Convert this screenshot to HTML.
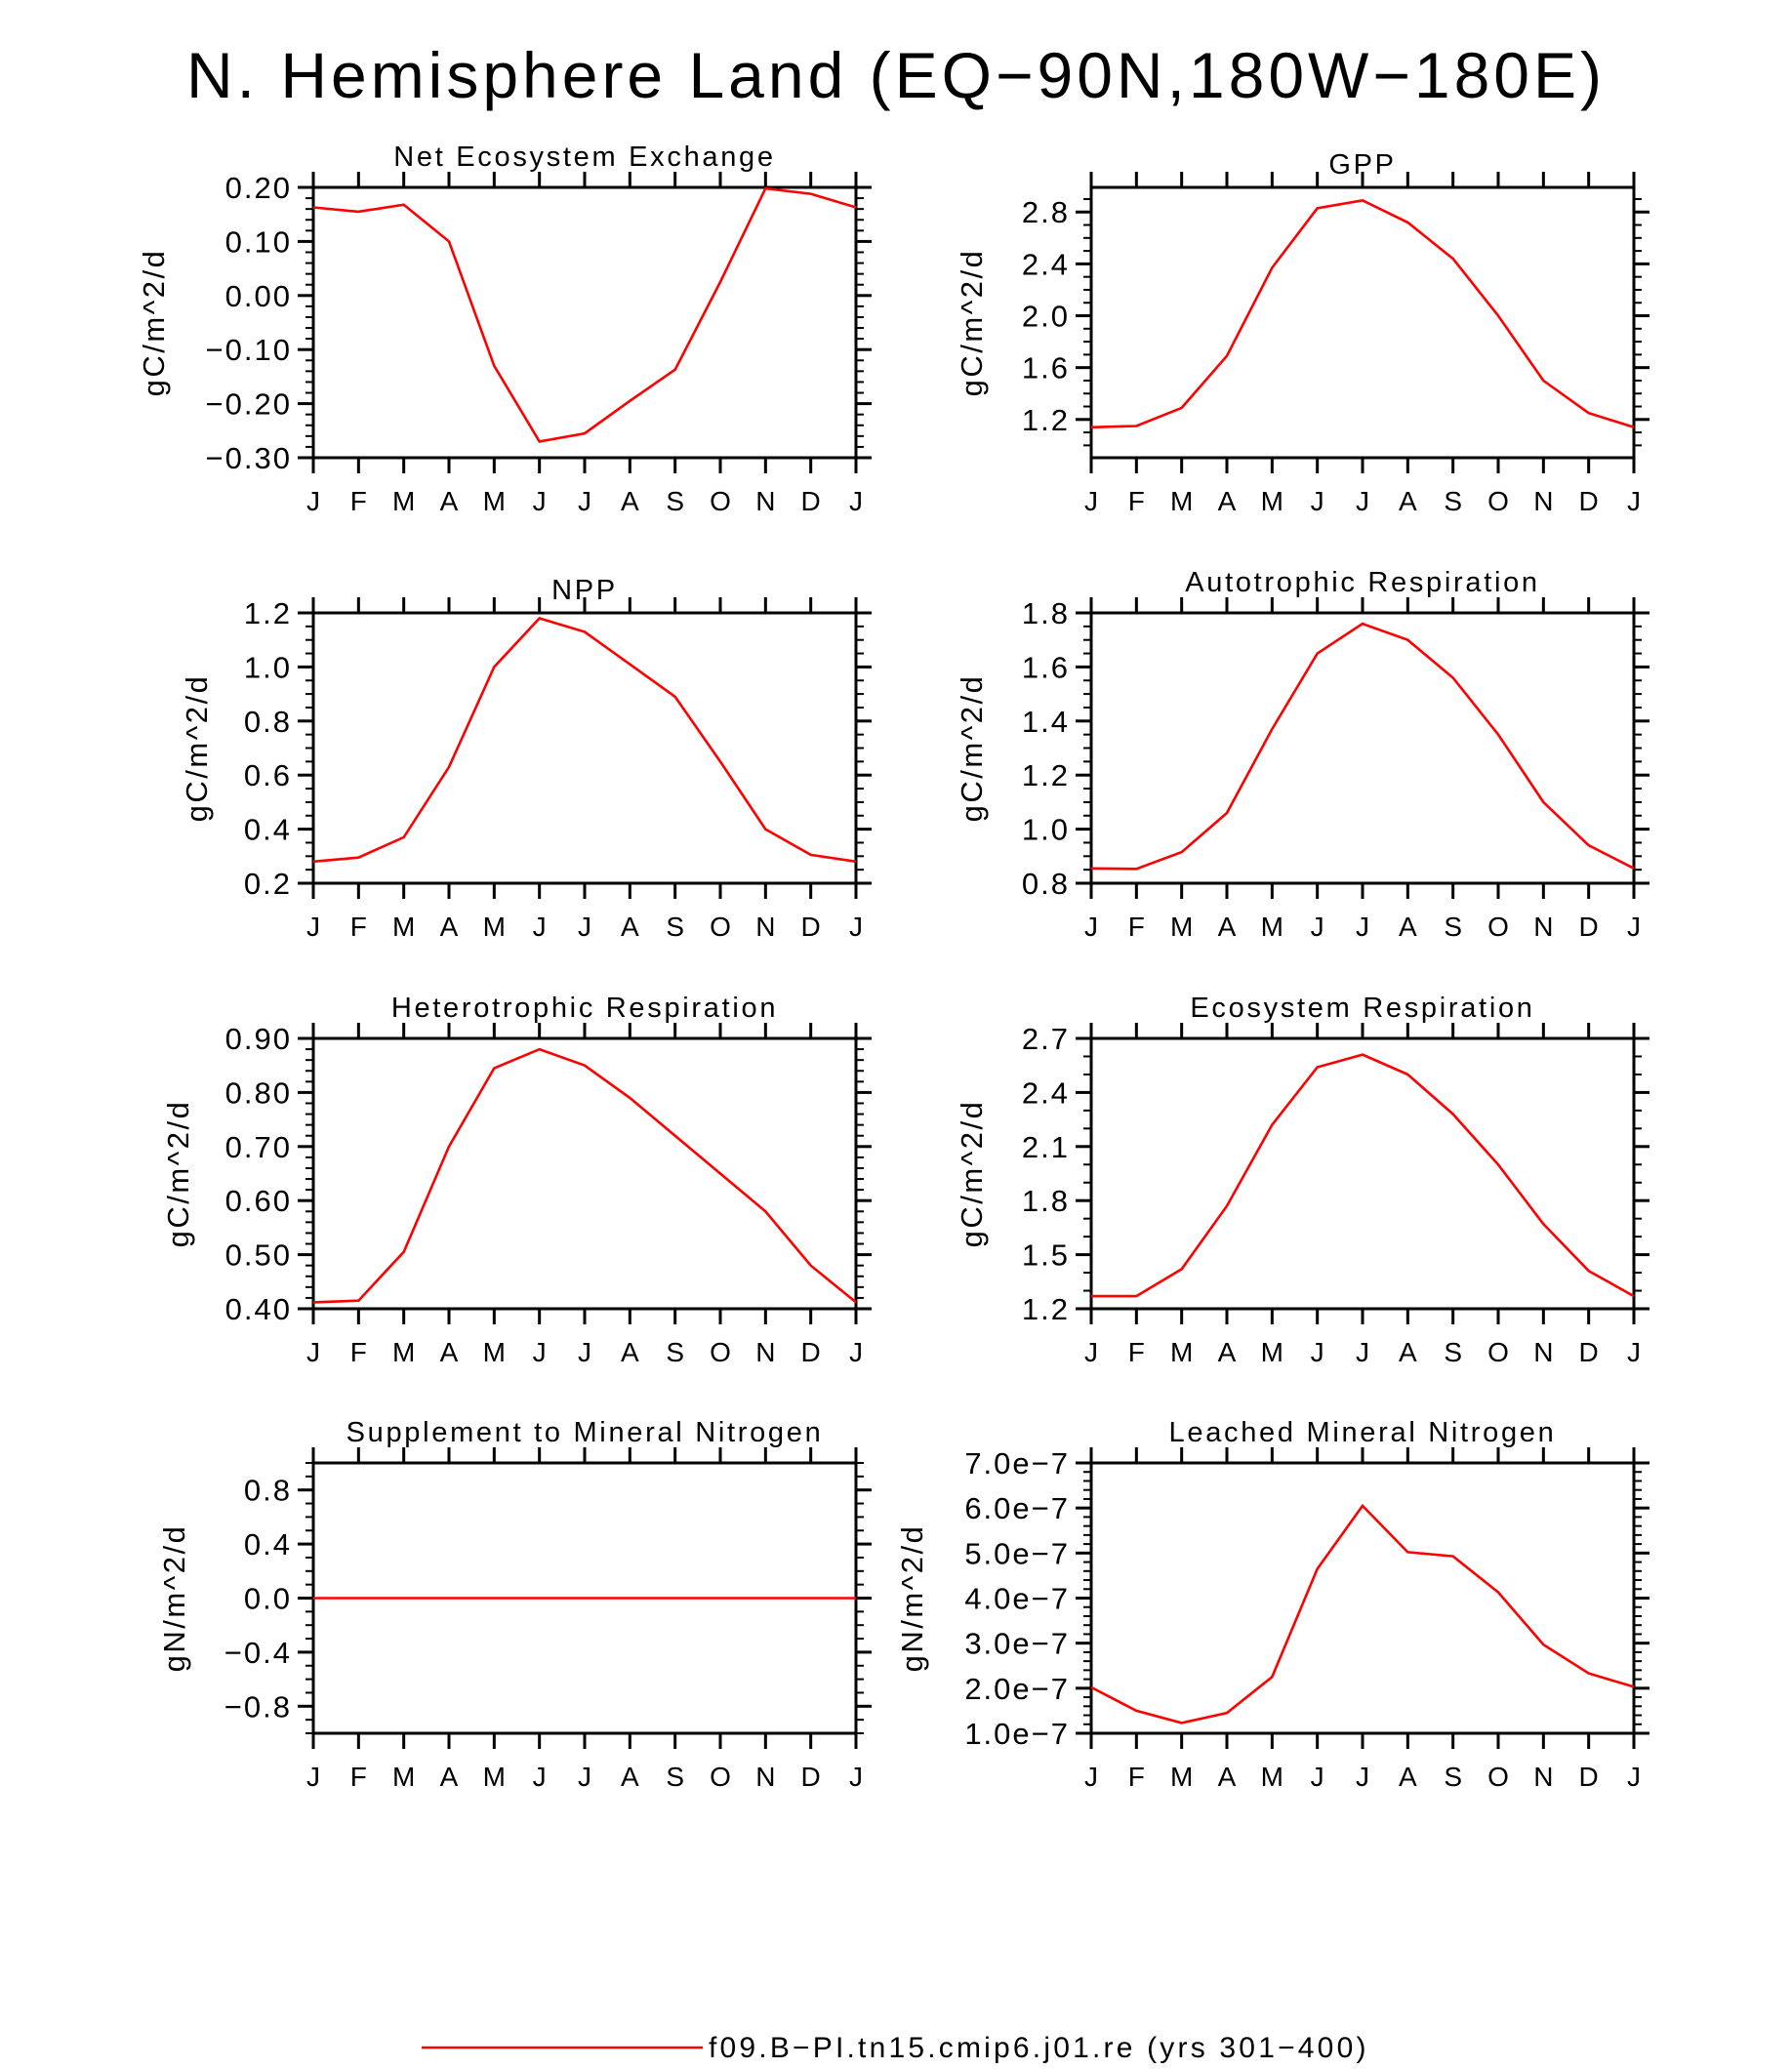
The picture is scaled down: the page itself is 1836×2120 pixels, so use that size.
<!DOCTYPE html>
<html><head><meta charset="utf-8"><style>
html,body{margin:0;padding:0;background:#fff}
svg text{font-family:"Liberation Sans",sans-serif;fill:#000}
</style></head><body>
<svg id="fig" xmlns="http://www.w3.org/2000/svg" width="1836" height="2115" viewBox="0 0 1836 2115">
<rect width="1836" height="2115" fill="#fff"/>
<text x="918" y="100" font-size="66" text-anchor="middle" letter-spacing="4">N. Hemisphere Land (EQ−90N,180W−180E)</text>
<line x1="432" y1="2098" x2="720" y2="2098" stroke="#f00" stroke-width="2.5"/>
<text x="726" y="2108" font-size="30" letter-spacing="3.2">f09.B−PI.tn15.cmip6.j01.re (yrs 301−400)</text>
</svg>
<script>
const months=["J","F","M","A","M","J","J","A","S","O","N","D","J"];
const neeVals=[0.163,0.155,0.168,0.10,-0.13,-0.27,-0.255,-0.195,-0.137,0.025,0.198,0.188,0.163];
const neeTicks=[-0.30,-0.20,-0.10,0.00,0.10,0.20];
const neeTickLabels=["−0.30","−0.20","−0.10","0.00","0.10","0.20"];
const gppVals=[1.14,1.15,1.29,1.69,2.37,2.83,2.89,2.72,2.44,2.0,1.5,1.25,1.14];
const gppTicks=[1.2,1.6,2.0,2.4,2.8];
const gppTickLabels=["1.2","1.6","2.0","2.4","2.8"];
const nppVals=[0.28,0.295,0.37,0.63,1.0,1.18,1.13,1.01,0.89,0.65,0.40,0.305,0.28];
const nppTicks=[0.2,0.4,0.6,0.8,1.0,1.2];
const nppTickLabels=["0.2","0.4","0.6","0.8","1.0","1.2"];
const arVals=[0.855,0.853,0.915,1.06,1.37,1.65,1.76,1.70,1.56,1.35,1.10,0.94,0.855];
const arTicks=[0.8,1.0,1.2,1.4,1.6,1.8];
const arTickLabels=["0.8","1.0","1.2","1.4","1.6","1.8"];
const hrVals=[0.412,0.415,0.505,0.70,0.845,0.88,0.85,0.79,0.72,0.65,0.58,0.48,0.412];
const hrTicks=[0.4,0.5,0.6,0.7,0.8,0.9];
const hrTickLabels=["0.40","0.50","0.60","0.70","0.80","0.90"];
const erVals=[1.27,1.27,1.42,1.77,2.22,2.54,2.61,2.50,2.28,2.00,1.67,1.41,1.27];
const erTicks=[1.2,1.5,1.8,2.1,2.4,2.7];
const erTickLabels=["1.2","1.5","1.8","2.1","2.4","2.7"];
const supVals=[0,0,0,0,0,0,0,0,0,0,0,0,0];
const supTicks=[-0.8,-0.4,0.0,0.4,0.8];
const supTickLabels=["−0.8","−0.4","0.0","0.4","0.8"];
const leachVals=[2.02e-7,1.5e-7,1.23e-7,1.45e-7,2.25e-7,4.65e-7,6.05e-7,5.02e-7,4.93e-7,4.13e-7,2.97e-7,2.33e-7,2.03e-7];
const leachTicks=[1e-7,2e-7,3e-7,4e-7,5e-7,6e-7,7e-7];
const leachTickLabels=["1.0e−7","2.0e−7","3.0e−7","4.0e−7","5.0e−7","6.0e−7","7.0e−7"];

const NS="http://www.w3.org/2000/svg";
const svg=document.getElementById("fig");
function mk(tag,attrs,parent){const e=document.createElementNS(NS,tag);for(const k in attrs)e.setAttribute(k,attrs[k]);(parent||svg).appendChild(e);return e;}

const panels=[
 {id:"nee",title:"Net Ecosystem Exchange",unit:"gC/m^2/d",vals:neeVals,ticks:neeTicks,labels:neeTickLabels,min:-0.30,max:0.20,minor:0.02,x:321,y:192,yl:168,td:22},
 {id:"gpp",title:"GPP",unit:"gC/m^2/d",vals:gppVals,ticks:gppTicks,labels:gppTickLabels,min:0.905,max:2.99,minor:0.1,x:1118,y:192,yl:1006,td:14},
 {id:"npp",title:"NPP",unit:"gC/m^2/d",vals:nppVals,ticks:nppTicks,labels:nppTickLabels,min:0.2,max:1.2,minor:0.05,x:321,y:628,yl:212,td:14},
 {id:"ar",title:"Autotrophic Respiration",unit:"gC/m^2/d",vals:arVals,ticks:arTicks,labels:arTickLabels,min:0.8,max:1.8,minor:0.05,x:1118,y:628,yl:1006,td:22},
 {id:"hr",title:"Heterotrophic Respiration",unit:"gC/m^2/d",vals:hrVals,ticks:hrTicks,labels:hrTickLabels,min:0.4,max:0.9,minor:0.02,x:321,y:1064,yl:193,td:22},
 {id:"er",title:"Ecosystem Respiration",unit:"gC/m^2/d",vals:erVals,ticks:erTicks,labels:erTickLabels,min:1.2,max:2.7,minor:0.1,x:1118,y:1064,yl:1006,td:22},
 {id:"sup",title:"Supplement to Mineral Nitrogen",unit:"gN/m^2/d",vals:supVals,ticks:supTicks,labels:supTickLabels,min:-1,max:1,minor:0.1,x:321,y:1499,yl:189,td:22},
 {id:"leach",title:"Leached Mineral Nitrogen",unit:"gN/m^2/d",vals:leachVals,ticks:leachTicks,labels:leachTickLabels,min:1e-7,max:7e-7,minor:0.2e-7,x:1118,y:1499,yl:945,td:22}
];
const W=556,H=277;
panels.forEach(p=>{
 const g=mk("g",{});
 
 
 const xs=i=>p.x+i*W/12;
 const ys=v=>p.y+H-(v-p.min)/(p.max-p.min)*H;
 const start=Math.ceil(p.min/p.minor-1e-6);
 for(let k=start;k*p.minor<=p.max+1e-12;k++){
  const yy=ys(k*p.minor);
  if(yy<p.y-0.5||yy>p.y+H+0.5)continue;
  mk("line",{x1:p.x-8,y1:yy,x2:p.x,y2:yy,stroke:"#000","stroke-width":2},g);
  mk("line",{x1:p.x+W,y1:yy,x2:p.x+W+8,y2:yy,stroke:"#000","stroke-width":2},g);
 }
 p.ticks.forEach((t,i)=>{
  const yy=ys(t);
  mk("line",{x1:p.x-16,y1:yy,x2:p.x,y2:yy,stroke:"#000","stroke-width":3},g);
  mk("line",{x1:p.x+W,y1:yy,x2:p.x+W+16,y2:yy,stroke:"#000","stroke-width":3},g);
  const tl=mk("text",{x:p.x-22,y:yy+11,"font-size":31,"text-anchor":"end","letter-spacing":2},g);
  
  
  tl.textContent=p.labels[i];
 });
 months.forEach((m,i)=>{
  const xx=xs(i);
  mk("line",{x1:xx,y1:p.y+H,x2:xx,y2:p.y+H+16,stroke:"#000","stroke-width":3},g);
  mk("line",{x1:xx,y1:p.y-16,x2:xx,y2:p.y,stroke:"#000","stroke-width":3},g);
  const ml=mk("text",{x:xx,y:p.y+H+54,"font-size":28,"text-anchor":"middle"},g);
  
  
  ml.textContent=m;
 });
 const fr=mk("rect",{x:p.x,y:p.y,width:W,height:H,fill:"none",stroke:"#000","stroke-width":3},g);
 
 
 const pts=p.vals.map((v,i)=>xs(i).toFixed(1)+","+ys(v).toFixed(1)).join(" ");
 const pl=mk("polyline",{points:pts,fill:"none",stroke:"#f00","stroke-width":2.6},g);
 
 
 const tt=mk("text",{x:p.x+W/2,y:p.y-p.td,"font-size":29,"text-anchor":"middle","letter-spacing":2.7},g);
 
 
 tt.textContent=p.title;
 const yl=mk("text",{x:p.yl,y:p.y+H/2,"font-size":31,"text-anchor":"middle","letter-spacing":2.5,transform:"rotate(-90 "+p.yl+" "+(p.y+H/2)+")"},g);
 
 
 yl.textContent=p.unit;
});
</script>
</body></html>
